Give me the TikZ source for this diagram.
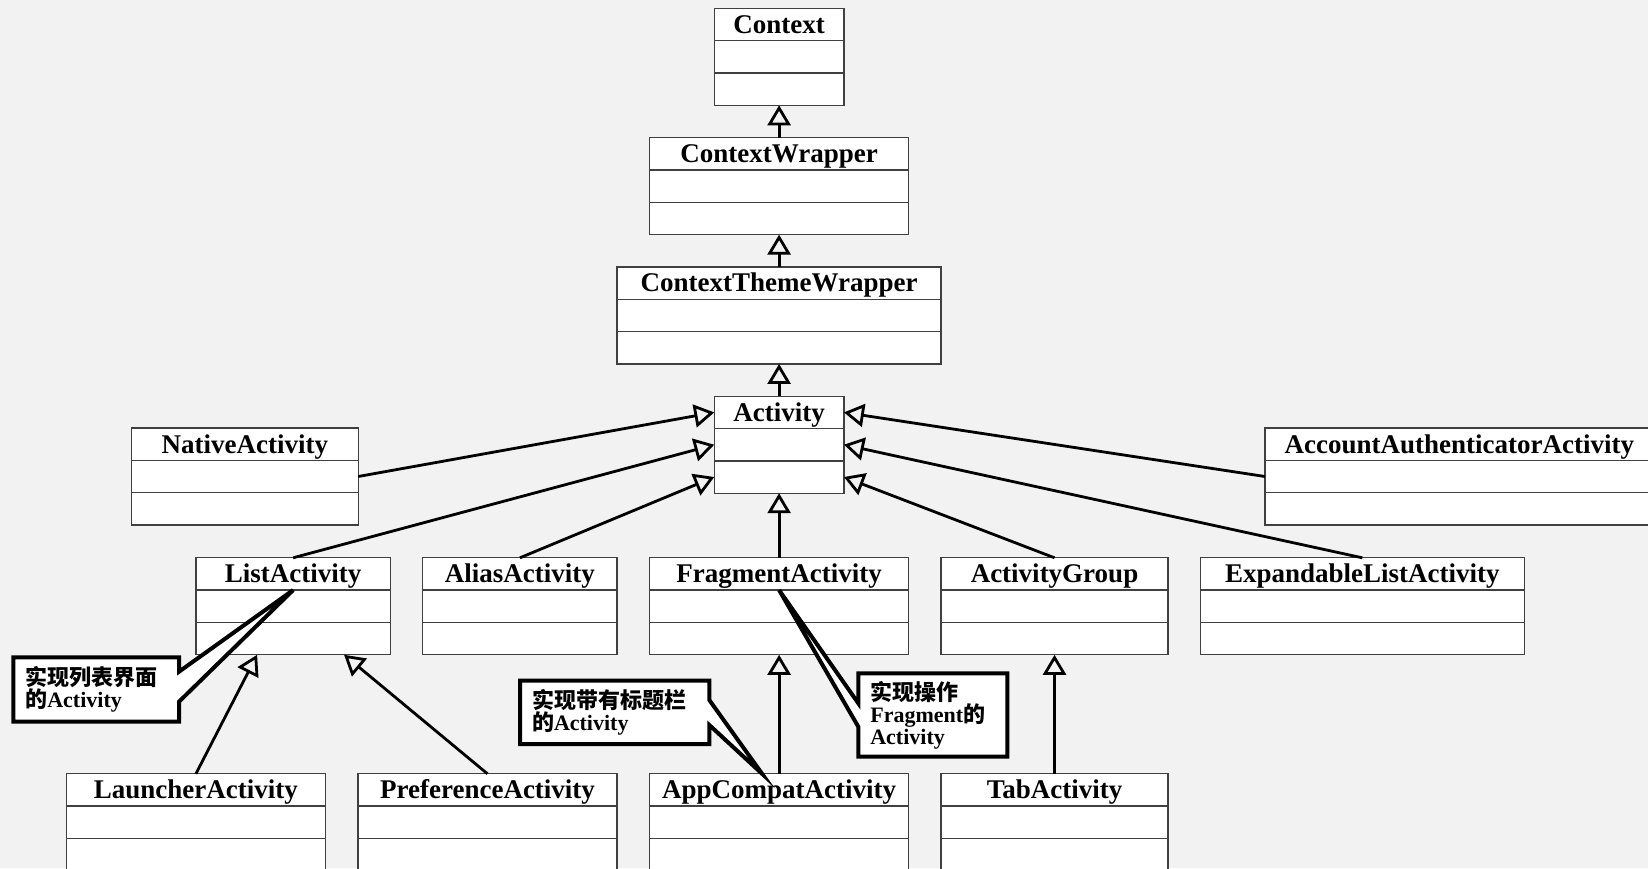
\documentclass[tikz,border=0pt]{standalone}
\usepackage{fontspec}
\setmainfont{Liberation Serif}
\newfontfamily\cjk{Noto Sans CJK SC}
\usetikzlibrary{positioning}
\usetikzlibrary{arrows.meta}
\definecolor{bggray}{HTML}{F2F2F2}
\definecolor{boxline}{HTML}{404040}
\tikzset{class node/.style={draw=boxline, fill=white, line width=1.3pt, anchor=north west,
    inner sep=0pt, outer sep=0pt, minimum height=97pt, text height=25pt, text depth=72pt,
    font=\fontsize{27}{30}\selectfont\bfseries,
    path picture={\draw[boxline, line width=1.3pt]
      ([yshift=-32.3pt]path picture bounding box.north west) -- ([yshift=-32.3pt]path picture bounding box.north east)
      ([yshift=32.3pt]path picture bounding box.south west) -- ([yshift=32.3pt]path picture bounding box.south east);}},
  inherit/.style={-{Triangle[open,length=20pt,width=23pt]}, line width=2.8pt},
  note node/.style={anchor=north west, inner xsep=12pt, inner ysep=0pt, outer sep=0pt, align=left,
    font=\fontsize{22}{22}\selectfont\bfseries},
  note line/.style={draw, fill=white, line width=4pt, line join=miter},}

\begin{document}
\begin{tikzpicture}[x=1pt, y=-1pt]
  \fill[bggray] (0,0) rectangle (1648,868);
  \useasboundingbox (0,0) rectangle (1648,868);

  % central chain
  \node[class node, minimum width=129.6pt] (context) at (714.3,8.3) {Context};
  \node[class node, minimum width=259.2pt, below=32.3pt of context] (wrapper) {ContextWrapper};
  \node[class node, minimum width=324pt, below=32.3pt of wrapper] (theme) {ContextThemeWrapper};
  \node[class node, minimum width=129.6pt, below=32.3pt of theme] (activity) {Activity};
  \node[class node, minimum width=226.8pt] (native) at (131.4,428) {NativeActivity};
  \node[class node, minimum width=388.8pt] (account) at (1265,428) {AccountAuthenticatorActivity};

  % second row
  \node[class node, minimum width=259.2pt, below=64.6pt of activity] (fragment) {FragmentActivity};
  \node[class node, minimum width=194.4pt, left=32.4pt of fragment] (alias) {AliasActivity};
  \node[class node, minimum width=194.4pt, left=32.4pt of alias] (list) {ListActivity};
  \node[class node, minimum width=226.8pt, right=32.4pt of fragment] (group) {ActivityGroup};
  \node[class node, minimum width=324pt, right=32.4pt of group] (expandable) {ExpandableListActivity};

  % third row
  \node[class node, minimum width=259.2pt, below=119pt of fragment] (appcompat) {AppCompatActivity};
  \node[class node, minimum width=259.2pt, left=32.4pt of appcompat] (preference) {PreferenceActivity};
  \node[class node, minimum width=259.2pt, left=32.4pt of preference] (launcher) {LauncherActivity};
  \node[class node, minimum width=226.8pt, right=32.4pt of appcompat] (tab) {TabActivity};

  \path[inherit]
    (wrapper) edge (context)
    (theme) edge (wrapper)
    (activity) edge (theme)
    (native.east) edge ([yshift=-16.2pt]activity.north west)
    (list.north) edge (activity.west)
    (alias.north) edge ([yshift=16.2pt]activity.south west)
    (fragment) edge (activity)
    (group.north) edge ([yshift=16.2pt]activity.south east)
    (expandable.north) edge (activity.east)
    (account.west) edge ([yshift=-16.2pt]activity.north east)
    (launcher.north) edge ([xshift=-36pt]list.south)
    (preference.north) edge ([xshift=51pt]list.south)
    (appcompat) edge (fragment)
    (tab) edge (group);

  % notes
  \path[note line] (13.3,657.3) node[note node, minimum height=64.4pt, text width=141.7pt] (listnote)
      {{\cjk 实现列表界面}\\{\cjk 的}Activity}
    (listnote.north west) -- (listnote.north east) -- ([yshift=-14.4pt]listnote.north east)
    -- ([yshift=-32.3pt]list.north) -- ([yshift=-44.4pt]listnote.north east)
    -- (listnote.south east) -- (listnote.south west) -- cycle;
  \path[note line] (520,680.7) node[note node, minimum height=63.3pt, text width=165.3pt] (compatnote)
      {{\cjk 实现带有标题栏}\\{\cjk 的}Activity}
    (compatnote.north west) -- (compatnote.north east) -- ([yshift=-19.3pt]compatnote.north east)
    -- ([xshift=-17pt]appcompat.north) -- ([yshift=-44.3pt]compatnote.north east)
    -- (compatnote.south east) -- (compatnote.south west) -- cycle;
  \path[note line] (858.3,673.3) node[note node, minimum height=83.4pt, text width=125pt] (fragnote)
      {{\cjk 实现操作}\\Fragment{\cjk 的}\\Activity}
    (fragnote.north west) -- (fragnote.north east) -- (fragnote.south east) -- (fragnote.south west)
    -- ([yshift=-53.4pt]fragnote.north west) -- ([yshift=-32.3pt]fragment.north)
    -- ([yshift=-30pt]fragnote.north west) -- cycle;
\end{tikzpicture}
\end{document}
